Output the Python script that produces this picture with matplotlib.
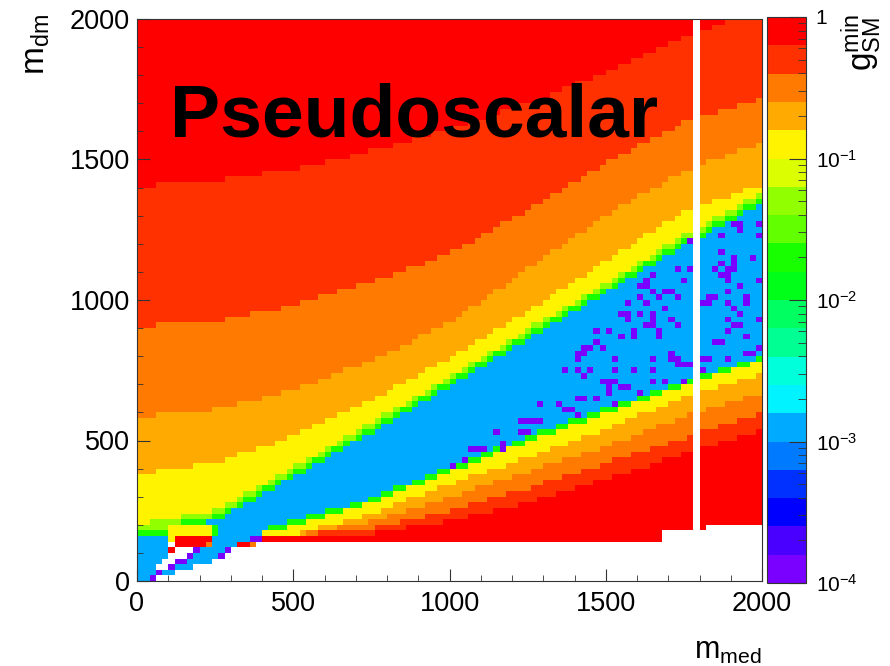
import matplotlib.pyplot as plt
import numpy as np
from matplotlib.colors import ListedColormap, LogNorm
from matplotlib.ticker import MultipleLocator, LogLocator, NullFormatter

plt.rcParams['font.family'] = 'Liberation Sans'
plt.rcParams['mathtext.fontset'] = 'custom'
plt.rcParams['mathtext.rm'] = 'Liberation Sans'
plt.rcParams['mathtext.it'] = 'Liberation Sans:italic'

# scan grid, 20 GeV cells in m_med and m_dm
med_edges = np.arange(0, 2001, 20)
dm_edges = np.arange(0, 2001, 20)
med = med_edges[:-1] + 10
dm = dm_edges[:-1] + 10

# ROOT rainbow palette, 20 contours from 1e-4 to 1
palette = ['#7a00ff', '#4900ff', '#0000ff', '#0031ff', '#007aff',
           '#00aaff', '#00f3ff', '#00ffdb', '#00ff92', '#00ff61',
           '#00ff18', '#18ff00', '#61ff00', '#92ff00', '#dbff00',
           '#fff300', '#ffaa00', '#ff7a00', '#ff3100', '#ff0000']

# g_min value of each colour band seen in the plot
g_band = {'R': 0.79, 'r': 0.5, 'O': 0.32, 'o': 0.2, 'Y': 0.126,
          'L': 0.05, 'G': 0.02, 'B': 1.26e-3, 'P': 1.26e-4, '.': np.nan}

# band edges above the resonance band (m_dm where the colour changes)
x_up = [0, 250, 500, 750, 1000, 1250, 1500, 1750, 2000]
up_red = [1405, 1425, 1465, 1530, 1610, 1700, 1810, 1935, 2040]
up_redor = [905, 925, 980, 1065, 1165, 1320, 1490, 1630, 1720]
up_orange = [583, 610, 680, 785, 920, 1110, 1300, 1460, 1560]
up_ltor = [382, 420, 515, 645, 795, 960, 1140, 1315, 1410]
up_yellow = [200, 250, 405, 565, 727, 897, 1060, 1232, 1380]
up_lime = [185, 232, 388, 547, 710, 880, 1043, 1212, 1362]
up_green = [165, 215, 370, 528, 692, 862, 1025, 1192, 1345]

# band edges below the resonance band
x_lo = [400, 500, 750, 1000, 1250, 1500, 1750, 2000]
lo_blue = [180, 215, 295, 405, 515, 615, 712, 800]
lo_green = [168, 198, 280, 388, 497, 597, 698, 785]
lo_yellow = [162, 163, 240, 346, 440, 540, 655, 740]
lo_ltor = [161, 162, 212, 298, 390, 480, 585, 670]
lo_orange = [160, 161, 188, 250, 330, 420, 510, 600]
lo_redor = [160, 160, 168, 214, 280, 360, 455, 540]

# lowest m_dm with a result, per m_med range
floor_from = [400, 1680, 1820]
floor_dm = [140, 180, 200]
missing_med = [1790]

# low-mass corner, m_med < 400 and m_dm < 200 (rows from m_dm=190 down to 10)
corner = ["LLLLLYYYYYYYGBBBBBBB",
          "GGGGGYYYYYYYGBBBBBBB",
          "BBBBBYRRRRRRBBBBBBPP",
          "BBBBB.RRRRROBBBBRRO.",
          "BBBBBR...PBBBBP.....",
          "BBBBB...PBBBBP......",
          "BBBB..PPBBBB........",
          "BBB..PBBB...........",
          "BBBPBB..............",
          "BBP................."]

# points with g_min below 1.6e-4
purple_pts = [(1870, 1170), (1910, 1150), (1970, 1150), (1870, 1130), (1910, 1130),
              (1730, 1110), (1770, 1110), (1850, 1110), (1890, 1110), (1910, 1110),
              (1650, 1090), (1870, 1090), (1890, 1090), (1630, 1070), (1750, 1070),
              (1890, 1070), (1990, 1070), (1610, 1050), (1630, 1050), (1930, 1050),
              (1650, 1030), (1690, 1030), (1710, 1030), (1890, 1030), (1610, 1010),
              (1670, 1010), (1730, 1010), (1830, 1010), (1850, 1010), (1950, 1010),
              (1570, 990), (1630, 990), (1810, 990), (1830, 990), (1890, 990),
              (1950, 990), (1690, 970), (1910, 970), (1550, 950), (1570, 950),
              (1610, 950), (1650, 950), (1930, 950), (1570, 930), (1650, 930),
              (1710, 930), (1890, 930), (1990, 930), (1630, 910), (1650, 910),
              (1730, 910), (1910, 910), (1930, 910), (1470, 890), (1510, 890),
              (1590, 890), (1670, 890), (1890, 890), (1550, 870), (1590, 870),
              (1670, 870), (1950, 870), (1470, 850), (1850, 850), (1870, 850),
              (1430, 830), (1450, 830), (1490, 830), (1990, 830), (1410, 810),
              (1430, 810), (1710, 810), (1950, 810), (1970, 810), (1410, 790),
              (1530, 790), (1650, 790), (1710, 790), (1730, 790), (1810, 790),
              (1830, 790), (1890, 790), (1730, 770), (1750, 770), (1770, 770),
              (1370, 750), (1410, 750), (1450, 750), (1530, 750), (1590, 750),
              (1650, 750), (1810, 750), (1430, 730), (1490, 710), (1510, 710),
              (1530, 710), (1650, 710), (1690, 710), (1750, 710), (1510, 690),
              (1550, 690), (1570, 690), (1510, 670), (1610, 670), (1410, 650),
              (1430, 650), (1470, 650), (1290, 630), (1350, 630), (1530, 630),
              (1370, 610), (1390, 610), (1410, 590), (1230, 570), (1250, 570),
              (1270, 570), (1290, 570), (1150, 530), (1230, 530), (1250, 530),
              (1170, 490), (1070, 470), (1090, 470), (1110, 470), (1170, 470),
              (1050, 430), (1010, 410), (1770, 1210), (1870, 1230), (1910, 1270),
              (1930, 1270), (1930, 1250), (1990, 1270), (1990, 1230)]

# build the g_min map from the bands
X, Y = np.meshgrid(med, dm)
g = np.full(X.shape, g_band['B'])
for edge, key in [(lo_blue, 'G'), (lo_green, 'Y'), (lo_yellow, 'o'),
                  (lo_ltor, 'O'), (lo_orange, 'r'), (lo_redor, 'R')]:
    g[Y < np.interp(X, x_lo, edge)] = g_band[key]
for edge, key in [(up_green, 'G'), (up_lime, 'L'), (up_yellow, 'Y'),
                  (up_ltor, 'o'), (up_orange, 'O'), (up_redor, 'r'), (up_red, 'R')]:
    g[Y > np.interp(X, x_up, edge)] = g_band[key]

fl = np.array(floor_dm)[np.searchsorted(floor_from, X, side='right') - 1]
g[(X >= 400) & (Y < fl)] = np.nan
for r, row in enumerate(corner):
    j = len(corner) - 1 - r
    for i, c in enumerate(row):
        g[j, i] = g_band[c]
for mx, my in purple_pts:
    g[np.searchsorted(dm_edges, my) - 1, np.searchsorted(med_edges, mx) - 1] = g_band['P']
for mx in missing_med:
    g[:, np.searchsorted(med_edges, mx) - 1] = np.nan

fig = plt.figure(figsize=(8.9, 6.66), dpi=100)
ax = fig.add_axes([137/890, 85/666, 625/890, 562/666])
cax = fig.add_axes([767/890, 83/666, 39/890, 566/666])

mesh = ax.pcolormesh(med_edges, dm_edges, np.ma.masked_invalid(g),
                     cmap=ListedColormap(palette), norm=LogNorm(1e-4, 1))
ax.set_xlim(0, 2000)
ax.set_ylim(0, 2000)
ax.xaxis.set_major_locator(MultipleLocator(500))
ax.xaxis.set_minor_locator(MultipleLocator(100))
ax.yaxis.set_major_locator(MultipleLocator(500))
ax.yaxis.set_minor_locator(MultipleLocator(100))
ax.tick_params(which='both', direction='in', top=False, right=False, labelsize=19.5, color='#333333')
ax.tick_params(which='major', length=9)
ax.tick_params(which='minor', length=4.5)
ax.tick_params(axis='x', pad=7)
ax.tick_params(axis='y', pad=5)
for s in ax.spines.values():
    s.set_color('#333333')

ax.text(105, 1582, 'Pseudoscalar', fontsize=54, fontweight='bold', va='baseline')

cb = fig.colorbar(mesh, cax=cax)
cb.set_ticks([1e-4, 1e-3, 1e-2, 1e-1, 1],
             labels=[r'$\mathregular{10^{-4}}$', r'$\mathregular{10^{-3}}$',
                     r'$\mathregular{10^{-2}}$', r'$\mathregular{10^{-1}}$', '1'])
cax.yaxis.set_minor_locator(LogLocator(base=10, subs=np.arange(2, 10)))
cax.yaxis.set_minor_formatter(NullFormatter())
cax.tick_params(which='both', direction='in', labelsize=15, pad=7, color='#333333')
cax.tick_params(which='major', length=12)
cax.tick_params(which='minor', length=6)
cb.outline.set_edgecolor('#333333')

fig.text(36/890, 1 - 14/666, r'$\mathregular{m_{dm}}$', rotation=90, ha='center', va='top', fontsize=24)
fig.text(762/890, 7/666, r'$\mathregular{m_{med}}$', ha='right', va='baseline', fontsize=22)
fig.text(862/890, 1 - 14/666, r'$\mathregular{g_{SM}^{min}}$', rotation=90, ha='center', va='top', fontsize=24)

fig.savefig('out.png', dpi=100)
